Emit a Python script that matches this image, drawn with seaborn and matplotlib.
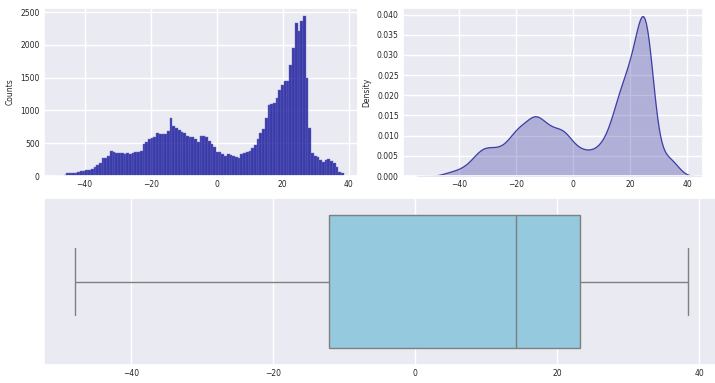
import numpy as np
import pandas as pd
import matplotlib
matplotlib.use("Agg")
import matplotlib.pyplot as plt
import seaborn as sns

# ---- data -------------------------------------------------------------
bin_low = -48.0
bin_high = 38.5
n_bins = 105
counts = [
    2, 5, 12, 40, 48, 50, 50, 55, 76, 82,
    90, 98, 112, 140, 175, 195, 268, 275, 300, 386,
    370, 355, 350, 345, 330, 355, 335, 345, 365, 370,
    375, 490, 525, 570, 585, 590, 650, 640, 635, 640,
    690, 890, 765, 725, 705, 675, 650, 610, 590, 600,
    560, 525, 605, 615, 590, 530, 490, 440, 370, 360,
    340, 305, 335, 320, 305, 290, 280, 340, 345, 360,
    380, 420, 470, 560, 650, 710, 880, 1080, 1100, 1110,
    1185, 1310, 1390, 1450, 1450, 1690, 1955, 2340, 2210, 2365,
    2440, 1500, 725, 355, 310, 285, 245, 220, 245, 255,
    225, 195, 140, 65, 40,
]
obs_min = -48.0
obs_max = 38.45

edges = np.linspace(bin_low, bin_high, n_bins + 1)
centers = (edges[:-1] + edges[1:]) / 2
hist_df = pd.DataFrame({"value": centers, "count": counts})
values = np.concatenate([[obs_min], np.repeat(centers, counts), [obs_max]])
df = pd.DataFrame({"value": values})

# ---- styling -------------------------------------------------------------
sns.set_theme(style="darkgrid")
plt.rcParams.update({
    "font.size": 5.5,
    "axes.labelsize": 5.5,
    "xtick.labelsize": 5.5,
    "ytick.labelsize": 5.5,
    "axes.facecolor": "#EAEAF2",
})

fig = plt.figure(figsize=(7.15, 3.83), dpi=100)
ax1 = fig.add_axes([44 / 715, 1 - 176 / 383, (358 - 44) / 715, (176 - 8) / 383])
ax2 = fig.add_axes([403 / 715, 1 - 176 / 383, (703 - 403) / 715, (176 - 8) / 383])
ax3 = fig.add_axes([44 / 715, 1 - 365 / 383, (719 - 44) / 715, (365 - 198) / 383])

sns.histplot(data=hist_df, x="value", weights="count", bins=n_bins,
             binrange=(bin_low, bin_high), color="darkblue",
             alpha=0.75, edgecolor="#6a6ad0", linewidth=0.3, ax=ax1)
ax1.set_ylabel("Counts")
ax1.set_xlabel("")
ax1.set_yticks([0, 500, 1000, 1500, 2000, 2500])

sns.kdeplot(data=df, x="value", fill=True, color="darkblue",
            alpha=0.25, linewidth=0.9, ax=ax2)
for coll in ax2.collections:
    coll.set_edgecolor((0.0, 0.0, 0.55, 0.7))
ax2.set_ylabel("Density")
ax2.set_xlabel("")
ax2.set_xlim(-59.6, 45.6)

sns.boxplot(data=df, x="value", color="skyblue", linecolor="#7f7f7f",
            linewidth=1.0, width=0.8, ax=ax3)
ax3.set_xlabel("")
ax3.set_ylabel("")

for ax in (ax1, ax2, ax3):
    ax.tick_params(axis="both", length=0, pad=3)

fig.savefig("out.png", dpi=100)
